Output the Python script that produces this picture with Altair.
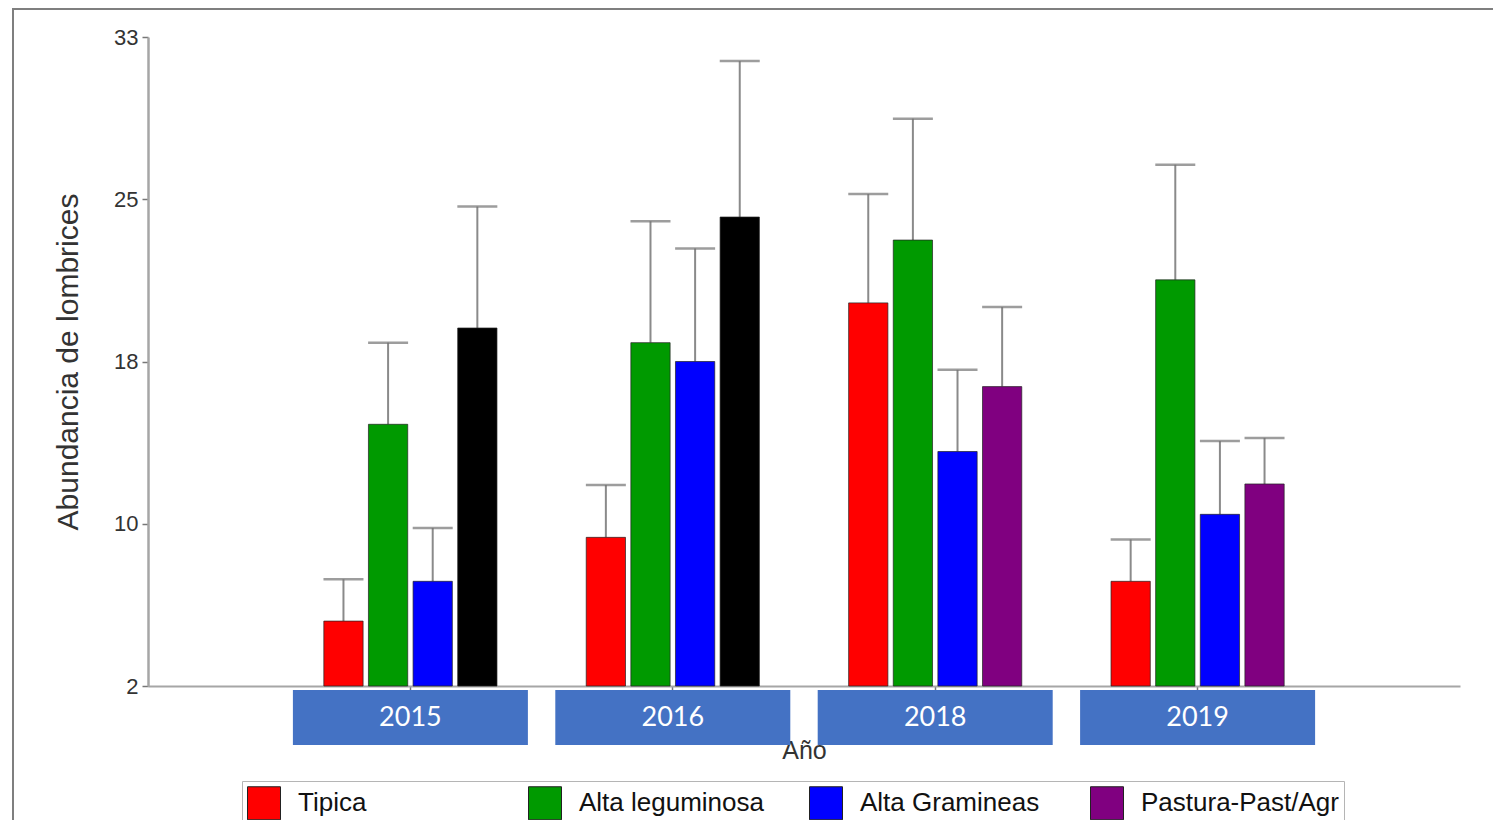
import altair as alt
import pandas as pd

# ---------------- data ----------------
years = ["2015", "2016", "2018", "2019"]
series = ["Tipica", "Alta leguminosa", "Alta Gramineas", "Pastura-Past/Agr"]

tipica_mean = [5.1, 9.1, 20.3, 7.0]
tipica_upper = [7.1, 11.6, 25.5, 9.0]
leguminosa_mean = [14.5, 18.4, 23.3, 21.4]
leguminosa_upper = [18.4, 24.2, 29.1, 26.9]
gramineas_mean = [7.0, 17.5, 13.2, 10.2]
gramineas_upper = [9.55, 22.9, 17.1, 13.7]
pastura_mean = [19.1, 24.4, 16.3, 11.65]
pastura_upper = [24.9, 31.85, 20.1, 13.85]

# years in which the fourth treatment is drawn in black
black_years = ["2015", "2016"]
black_key = "Pastura (2015-2016)"

y_ticks = [2, 9.75, 17.5, 25.25, 33]
x_title = "Año"
y_title = "Abundancia de lombrices"

series_colors = ["#FF0000", "#009A00", "#0000FF", "#800080"]
black_color = "#000000"

# ---------------- table ----------------
means = [tipica_mean, leguminosa_mean, gramineas_mean, pastura_mean]
uppers = [tipica_upper, leguminosa_upper, gramineas_upper, pastura_upper]
rows = []
for s, m_list, u_list in zip(series, means, uppers):
    for y, m, u in zip(years, m_list, u_list):
        key = black_key if (s == series[-1] and y in black_years) else s
        rows.append({"Year": y, "Serie": s, "Mean": m, "Upper": u, "Key": key})
df = pd.DataFrame(rows)
years_df = pd.DataFrame({"Year": years})
frame_df = pd.DataFrame({"f": [0]})

W, H = 1312, 649

x_enc = alt.X(
    "Year:N",
    sort=years,
    scale=alt.Scale(paddingInner=0, paddingOuter=0.5),
    axis=alt.Axis(
        labels=False,
        title=x_title,
        titleFontSize=25,
        titleFont="Liberation Sans",
        titleFontWeight="normal",
        titleColor="#333333",
        titleX=W / 2,
        titleY=64,
        titleAlign="center",
        titleBaseline="middle",
        domainColor="#a6a6a6",
        domainWidth=2,
        tickColor="#777777",
        tickSize=5,
        tickWidth=1.5,
        grid=False,
    ),
)
xoff_enc = alt.XOffset(
    "Serie:N", sort=series, scale=alt.Scale(paddingInner=0.12, paddingOuter=1)
)
y_axis = alt.Axis(
    values=y_ticks,
    format=".0f",
    title=y_title,
    titleFontSize=30,
    titleFont="Liberation Sans",
    titleFontWeight="normal",
    titleColor="#333333",
    titleX=-80,
    titleY=H / 2,
    titleAlign="center",
    titleBaseline="middle",
    labelFontSize=22,
    labelFont="Liberation Sans",
    labelColor="#333333",
    labelPadding=4,
    domainColor="#a6a6a6",
    domainWidth=2.5,
    tickColor="#777777",
    tickSize=6,
    tickWidth=1.5,
    grid=False,
)
y_scale = alt.Scale(domain=[y_ticks[0], y_ticks[-1]], nice=False, zero=False)

frame = alt.Chart(frame_df).mark_rect(
    fill="transparent", stroke="#7f7f7f", strokeWidth=2
).encode(
    x=alt.value(-135), x2=alt.value(W + 200), y=alt.value(-28), y2=alt.value(H + 300)
)

err_rule = alt.Chart(df).mark_rule(color="#8a8a8a", strokeWidth=2).encode(
    x=x_enc,
    xOffset=xoff_enc,
    y=alt.Y("Mean:Q", scale=y_scale, axis=y_axis),
    y2="Upper:Q",
)
err_cap = alt.Chart(df).mark_tick(color="#737373", thickness=2.5, size=40).encode(
    x=x_enc,
    xOffset=xoff_enc,
    y=alt.Y("Upper:Q", scale=y_scale, axis=y_axis),
)

bars = alt.Chart(df).mark_bar(
    stroke="#222222", strokeWidth=1, strokeOpacity=0.7
).encode(
    x=x_enc,
    xOffset=xoff_enc,
    y=alt.Y("Mean:Q", scale=y_scale, axis=y_axis),
    y2=alt.datum(y_ticks[0]),
    color=alt.Color(
        "Key:N",
        scale=alt.Scale(domain=series + [black_key], range=series_colors + [black_color]),
        legend=alt.Legend(
            values=series,
            title=None,
            orient="none",
            legendX=94,
            legendY=744,
            direction="horizontal",
            columns=4,
            gridAlign="all",
            columnPadding=30,
            symbolType="square",
            symbolSize=1089,
            symbolStrokeColor="#222222",
            symbolStrokeWidth=1,
            labelFontSize=26,
            labelFont="Liberation Sans",
            labelColor="#111111",
            labelOffset=17,
            labelLimit=400,
            padding=5,
            strokeColor="#b5b5b5",
            fillColor="white",
        ),
    ),
)

year_boxes = alt.Chart(years_df).mark_bar(width=235, color="#4472C4").encode(
    x=x_enc, y=alt.value(H + 4), y2=alt.value(H + 59)
)
year_text = alt.Chart(years_df).mark_text(
    color="white", fontSize=27, font="Lato", baseline="middle", align="center"
).encode(x=x_enc, y=alt.value(H + 32), text="Year:N")

chart = (
    alt.layer(frame, err_rule, err_cap, bars, year_boxes, year_text)
    .properties(
        width=W,
        height=H,
        background="white",
        padding={"left": 140, "top": 29, "right": 33, "bottom": 134},
        autosize=alt.AutoSizeParams(type="none"),
    )
    .configure_view(strokeWidth=0, stroke="transparent")
)

chart.save("out.html", embed_options={"renderer": "svg", "actions": False})
